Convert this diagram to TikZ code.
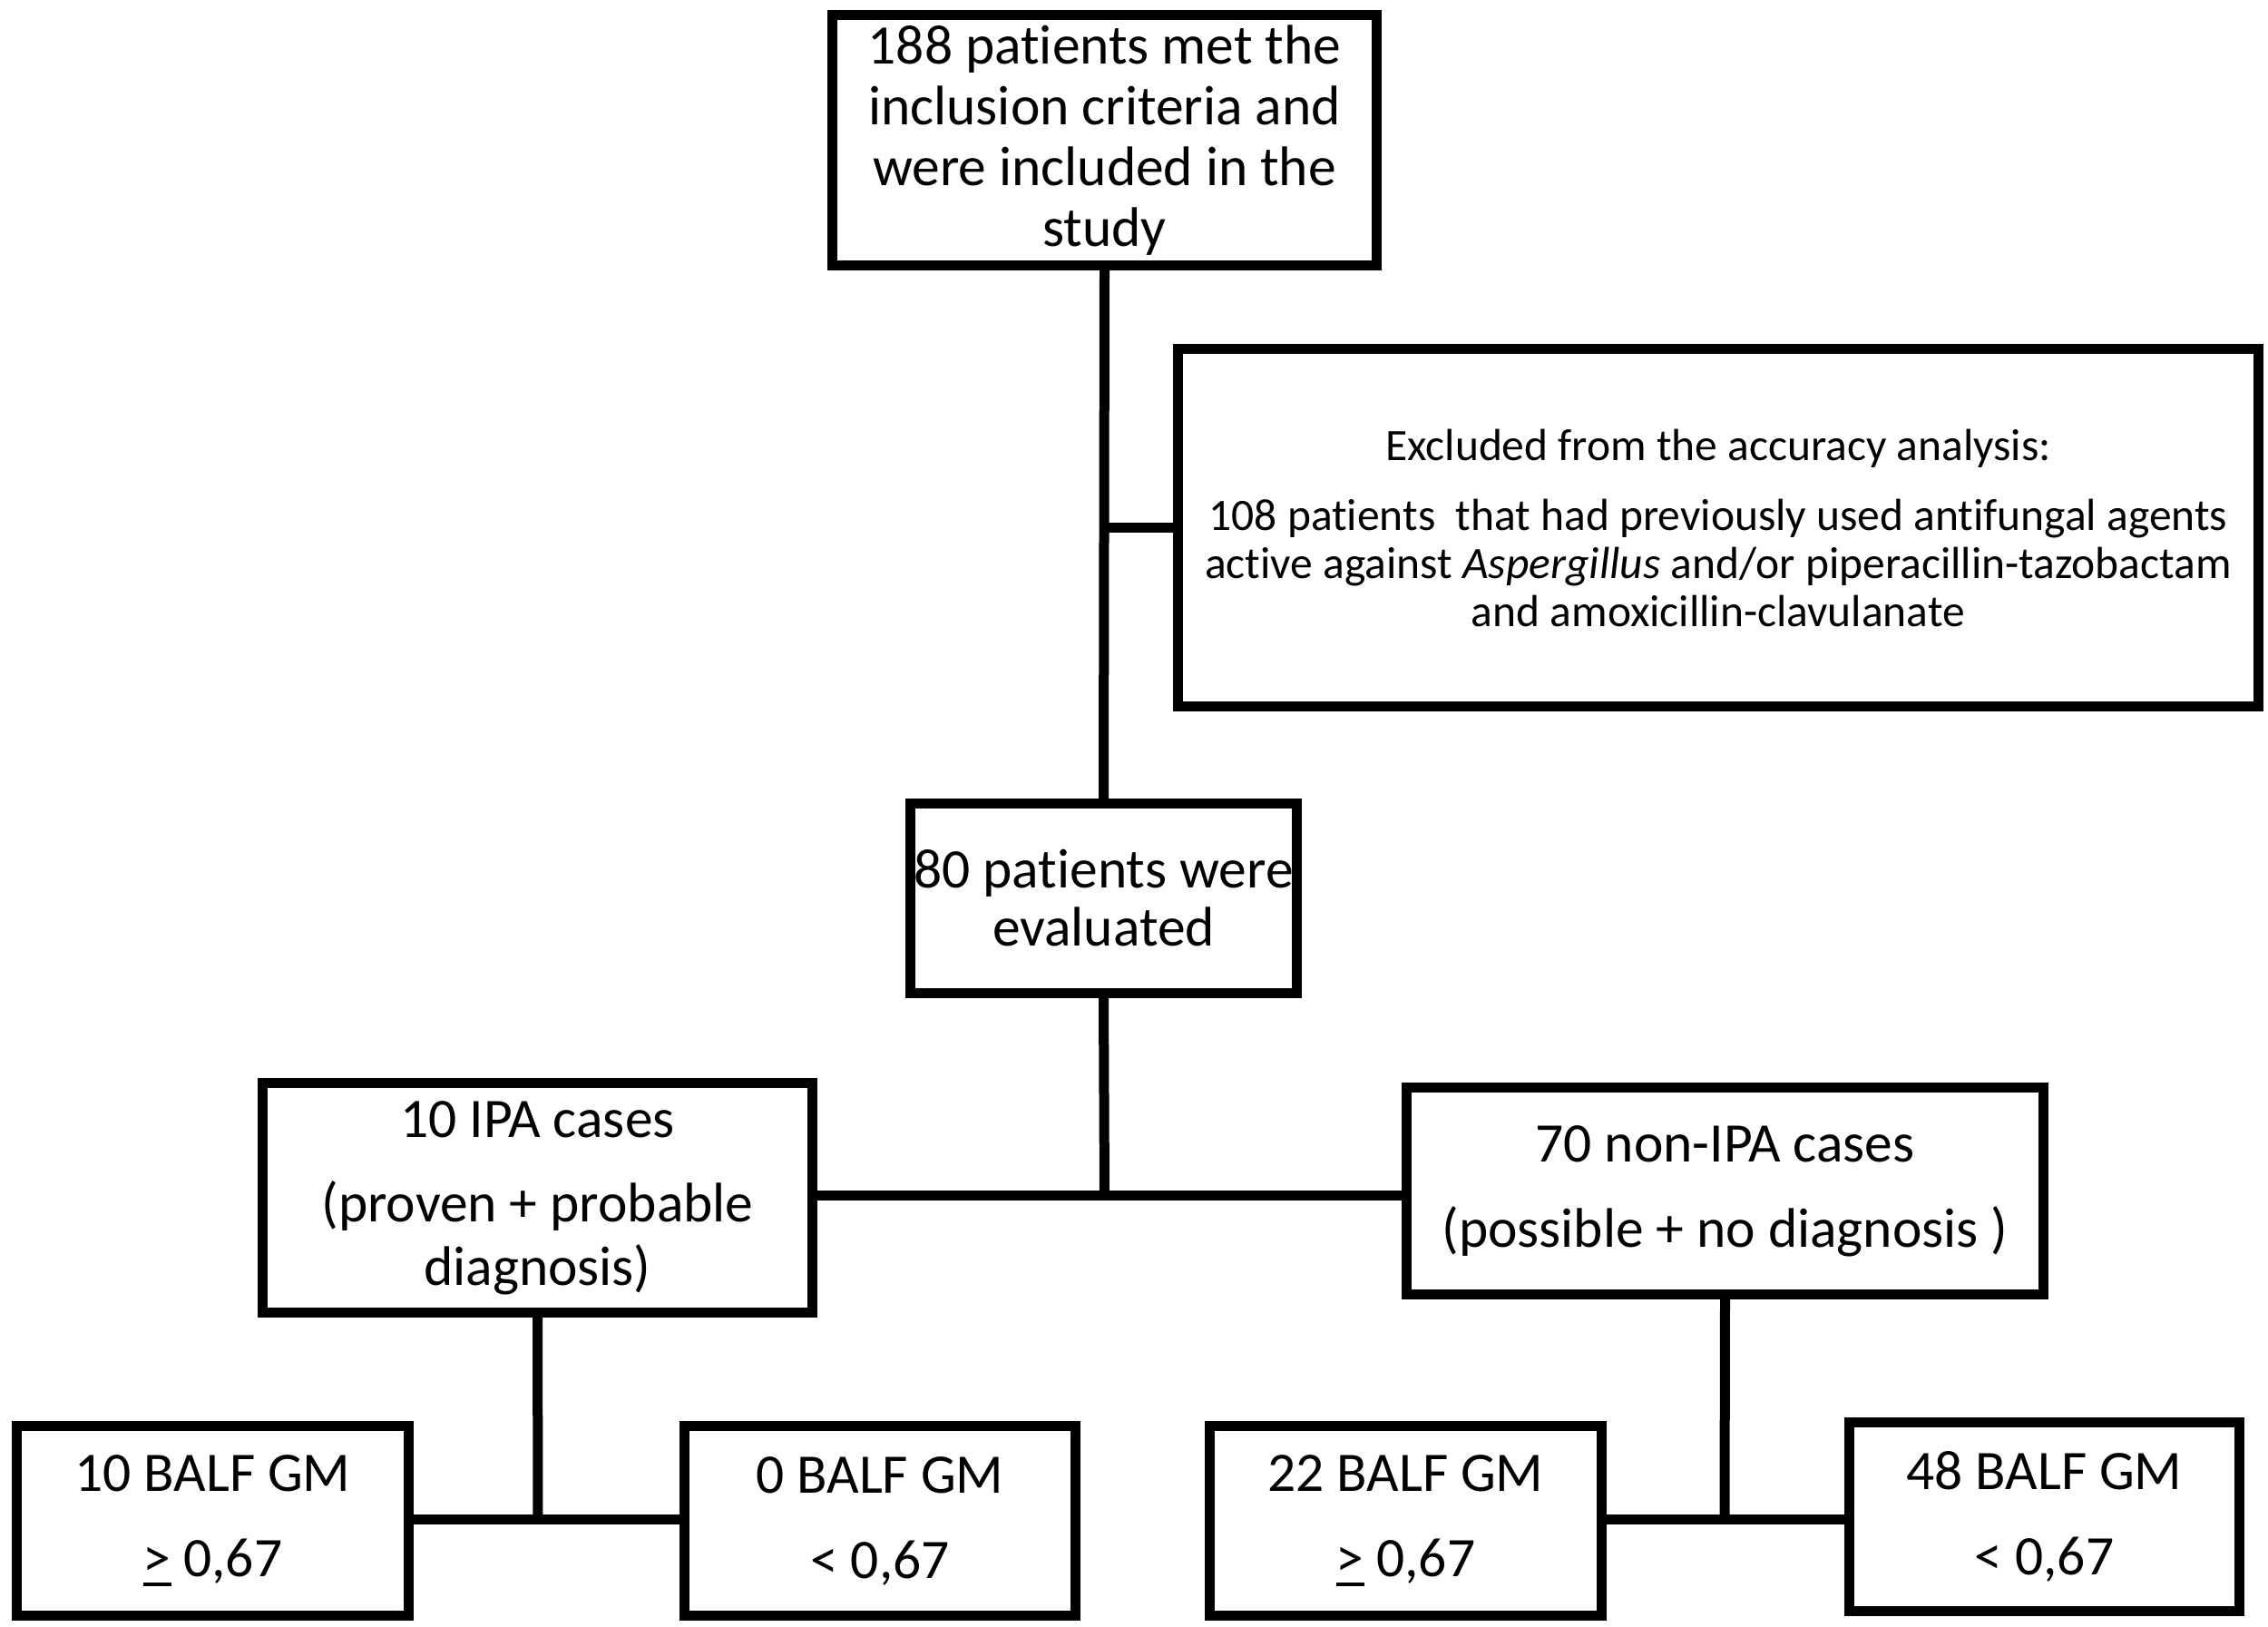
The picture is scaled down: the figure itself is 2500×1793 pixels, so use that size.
\documentclass[tikz,border=0pt]{standalone}
\usepackage{fontspec}
\setmainfont[Ligatures=NoCommon]{Carlito}
\newcommand\geline{\rlap{\rule[-0.17em]{0.5em}{0.07em}}>}
\begin{document}
\begin{tikzpicture}[x=1pt,y=-1pt,
  box/.style={draw=black,line width=11pt,rectangle,inner sep=0pt,align=center,
     font=\fontsize{61.5}{67}\selectfont},
  conn/.style={draw=black,line width=11pt}]
\useasboundingbox (0,0) rectangle (2500,1793);
\node[box,minimum width=600,minimum height=276] (top) at (1217.5,154.5)
  {188 patients met the\\inclusion criteria and\\were included in the\\study};
\node[box,minimum width=1191,minimum height=394,font=\fontsize{49.5}{53}\selectfont] (ex) at (1894,581.5)
  {Excluded from the accuracy analysis:\\[24pt]
   108 patients\ \ that had previously used antifungal agents\\
   active against \textit{Aspergillus} and/or piperacillin-tazobactam\\
   and amoxicillin-clavulanate};
\node[box,minimum width=426,minimum height=209,font=\fontsize{61.5}{64}\selectfont] (eval) at (1216.5,990)
  {80 patients were\\evaluated};
\node[box,minimum width=606,minimum height=253,font=\fontsize{61.5}{70}\selectfont] (ipa) at (592.5,1320)
  {10 IPA cases\\[23pt](proven + probable\\diagnosis)};
\node[box,minimum width=702,minimum height=228,font=\fontsize{61.5}{94}\selectfont] (nonipa) at (1901.5,1312.5)
  {70 non-IPA cases\\(possible + no diagnosis )};
\node[box,minimum width=432,minimum height=209,font=\fontsize{61.5}{94}\selectfont] (b1) at (234.5,1676)
  {10 BALF GM\\\geline{} 0,67};
\node[box,minimum width=431,minimum height=209,font=\fontsize{61.5}{94}\selectfont] (b2) at (970,1676)
  {0 BALF GM\\< 0,67};
\node[box,minimum width=432,minimum height=209,font=\fontsize{61.5}{94}\selectfont] (b3) at (1549.5,1676)
  {22 BALF GM\\\geline{} 0,67};
\node[box,minimum width=430,minimum height=208,font=\fontsize{61.5}{94}\selectfont] (b4) at (2253.5,1671.5)
  {48 BALF GM\\< 0,67};
\coordinate (j1) at (1217.5,1317);
\coordinate (j2) at (593,1674);
\coordinate (j3) at (1901,1674);
\draw[conn] (top.south) -- (eval.north);
\draw[conn] (ex.west) -- (ex.west -| top.south);
\draw[conn] (eval.south) -- (j1);
\draw[conn] (ipa.east |- j1) -- (nonipa.west |- j1);
\draw[conn] (ipa.south) -- (j2);
\draw[conn] (b1.east |- j2) -- (b2.west |- j2);
\draw[conn] (nonipa.south) -- (j3);
\draw[conn] (b3.east |- j3) -- (b4.west |- j3);
\end{tikzpicture}
\end{document}
